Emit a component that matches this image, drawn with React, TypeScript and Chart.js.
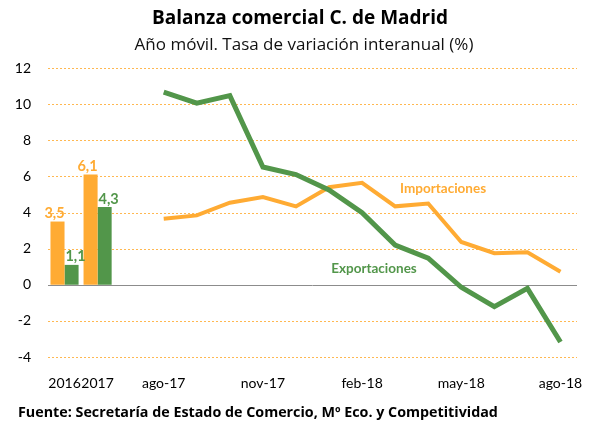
import React, { useEffect, useRef } from 'react';
import { Chart, registerables } from 'chart.js';

Chart.register(...registerables);

const categories = ['2016', '2017', '', 'ago-17', 'sep-17', 'oct-17', 'nov-17', 'dic-17', 'ene-18', 'feb-18', 'mar-18', 'abr-18', 'may-18', 'jun-18', 'jul-18', 'ago-18'];
const shownTicks = ['2016', '2017', 'ago-17', 'nov-17', 'feb-18', 'may-18', 'ago-18'];

const importBars = [3.5, 6.1, null, null, null, null, null, null, null, null, null, null, null, null, null, null];
const exportBars = [1.1, 4.3, null, null, null, null, null, null, null, null, null, null, null, null, null, null];
const importLine = [null, null, null, 3.66, 3.84, 4.54, 4.85, 4.34, 5.4, 5.64, 4.34, 4.5, 2.37, 1.75, 1.8, 0.72];
const exportLine = [null, null, null, 10.66, 10.05, 10.47, 6.52, 6.1, 5.25, 3.99, 2.2, 1.47, -0.14, -1.21, -0.2, -3.17];

const yMin = -4;
const yMax = 12;
const yStep = 2;

const ORANGE = 'rgb(255,171,51)';
const GREEN = 'rgb(82,150,74)';
const FONT = 'Lato, "Open Sans", sans-serif';
const FONT2 = '"Open Sans", Lato, sans-serif';

const titleText = 'Balanza comercial C. de Madrid';
const subtitleText = 'Año móvil. Tasa de variación interanual (%)';
const footerText = 'Fuente: Secretaría de Estado de Comercio, Mº Eco. y Competitividad';

const importLabel = { text: 'Importaciones', index: 11.45, value: 5.3 };
const exportLabel = { text: 'Exportaciones', index: 9.36, value: 0.9 };

const fmt = (v: number) => v.toFixed(1).replace('.', ',');

const decorPlugin = {
  id: 'decor',
  beforeDatasetsDraw(chart: any) {
    const { ctx, chartArea, scales } = chart;
    const y = scales.y;
    ctx.save();
    y.ticks.forEach((t: any) => {
      const py = Math.round(y.getPixelForValue(t.value)) + 0.5;
      ctx.beginPath();
      if (t.value === 0) {
        ctx.setLineDash([]);
        ctx.strokeStyle = '#8c8c8c';
        ctx.lineWidth = 1;
      } else {
        ctx.setLineDash([2, 2]);
        ctx.strokeStyle = 'rgba(255,171,51,0.85)';
        ctx.lineWidth = 1;
      }
      ctx.moveTo(chartArea.left, py);
      ctx.lineTo(chartArea.right, py);
      ctx.stroke();
    });
    ctx.restore();
  },
  afterDraw(chart: any) {
    const { ctx, scales } = chart;
    const x = scales.x;
    const y = scales.y;
    ctx.save();
    ctx.textAlign = 'center';
    ctx.textBaseline = 'middle';
    ctx.fillStyle = '#000';
    ctx.font = `bold 19px ${FONT2}`;
    ctx.fillText(titleText, 300, 19);
    ctx.font = `17px ${FONT2}`;
    ctx.fillStyle = '#111';
    ctx.fillText(subtitleText, 304, 45);
    ctx.textAlign = 'left';
    ctx.font = `bold 14.3px ${FONT2}`;
    ctx.fillStyle = '#000';
    ctx.fillText(footerText, 18, 413);

    ctx.font = `bold 14.5px ${FONT}`;
    ctx.textAlign = 'center';
    ctx.textBaseline = 'bottom';
    [0, 1].forEach((di) => {
      const meta = chart.getDatasetMeta(di);
      const data = di === 0 ? importBars : exportBars;
      ctx.fillStyle = di === 0 ? ORANGE : GREEN;
      meta.data.forEach((el: any, i: number) => {
        const v = data[i];
        if (v === null || v === undefined) return;
        const dx = di === 0 ? -3 : 4;
        ctx.fillText(fmt(v), el.x + dx, el.y - 1);
      });
    });

    ctx.textAlign = 'center';
    ctx.textBaseline = 'middle';
    ctx.font = `bold 13.5px ${FONT}`;
    ctx.fillStyle = ORANGE;
    ctx.fillText(importLabel.text, x.getPixelForValue(importLabel.index), y.getPixelForValue(importLabel.value));
    ctx.fillStyle = GREEN;
    ctx.fillText(exportLabel.text, x.getPixelForValue(exportLabel.index), y.getPixelForValue(exportLabel.value));
    ctx.restore();
  },
};

export default function App() {
  const ref = useRef<HTMLCanvasElement | null>(null);
  useEffect(() => {
    if (!ref.current) return;
    const chart = new Chart(ref.current, {
      type: 'bar',
      data: {
        labels: categories,
        datasets: [
          { type: 'bar', label: 'Importaciones', data: importBars as any, backgroundColor: ORANGE, categoryPercentage: 0.85, barPercentage: 1, order: 2 },
          { type: 'bar', label: 'Exportaciones', data: exportBars as any, backgroundColor: GREEN, categoryPercentage: 0.85, barPercentage: 1, order: 2 },
          { type: 'line', label: 'Importaciones', data: importLine as any, borderColor: ORANGE, borderWidth: 4, pointRadius: 0, tension: 0, spanGaps: false, order: 1 } as any,
          { type: 'line', label: 'Exportaciones', data: exportLine as any, borderColor: GREEN, borderWidth: 5, pointRadius: 0, tension: 0, spanGaps: false, order: 0 } as any,
        ],
      },
      options: {
        responsive: false,
        animation: false,
        layout: { padding: { top: 68, right: 20, bottom: 35, left: 0 } },
        plugins: {
          legend: { display: false },
          tooltip: { enabled: false },
          title: { display: false },
        },
        scales: {
          x: {
            grid: { display: false },
            border: { display: false },
            ticks: {
              autoSkip: false,
              maxRotation: 0,
              minRotation: 0,
              padding: 10,
              color: '#000',
              font: { family: FONT, size: 14 },
              callback: function (this: any, _v: any, i: number) {
                const l = categories[i];
                return shownTicks.includes(l) ? l : '';
              },
            },
            afterFit: (s: any) => { s.height = 40; },
          },
          y: {
            min: yMin,
            max: yMax,
            grid: { display: false, drawTicks: false },
            border: { display: false },
            ticks: {
              stepSize: yStep,
              padding: 17,
              color: '#000',
              font: { family: FONT, size: 14 },
            },
            afterFit: (s: any) => { s.width = 48; },
          },
        },
      },
      plugins: [decorPlugin],
    });
    return () => chart.destroy();
  }, []);
  return (
    <div style={{ position: 'absolute', left: 0, top: 0, width: 597, height: 432, background: '#fff' }}>
      <canvas ref={ref} width={597} height={432} />
    </div>
  );
}
